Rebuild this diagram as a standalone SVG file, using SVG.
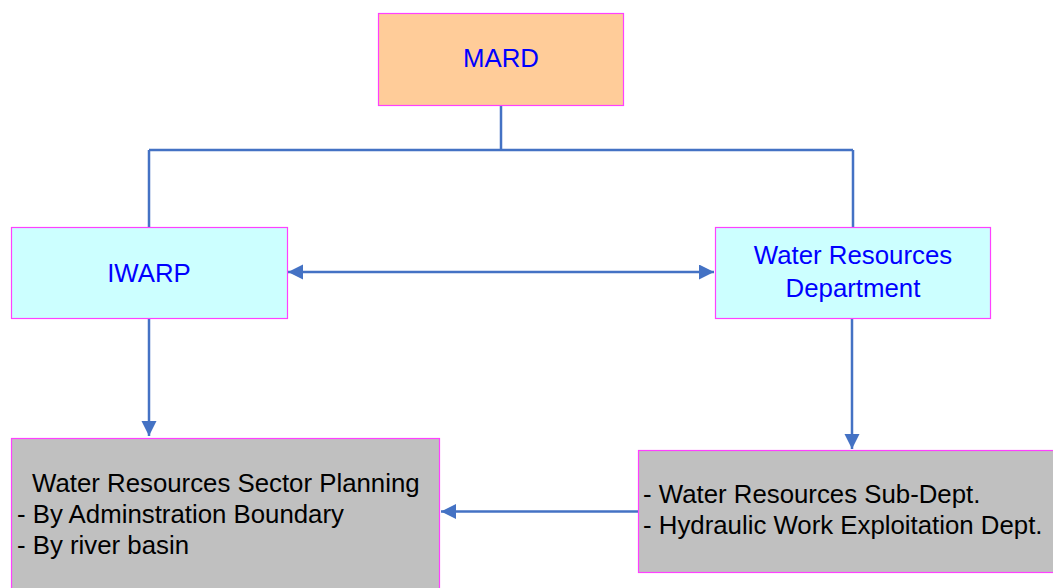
<svg xmlns="http://www.w3.org/2000/svg" width="1053" height="588" viewBox="0 0 1053 588">
<defs>
<marker id="ah" markerUnits="userSpaceOnUse" markerWidth="16" markerHeight="16" viewBox="0 0 16 16" refX="15" refY="7.5" orient="auto-start-reverse">
<path d="M0,0 L15,7.5 L0,15 Z" fill="#4472C4"/>
</marker>
</defs>
<style>
.box{stroke:#FF40FF;stroke-width:1.2}
.t{font-family:"Liberation Sans",Arial,sans-serif;font-size:25.8px}
.blue{fill:#0000FF}
.blk{fill:#000000}
.c{fill:none;stroke:#4472C4;stroke-width:2.5}
</style>
<rect width="1053" height="588" fill="#FFFFFF"/>
<g id="connectors">
<path class="c" d="M501,105 V150 M149,150 H853 M149,150 V227 M853,150 V227"/>
<path class="c" d="M288,272 H714" marker-start="url(#ah)" marker-end="url(#ah)"/>
<path class="c" d="M149,318 V436" marker-end="url(#ah)"/>
<path class="c" d="M852,318 V449" marker-end="url(#ah)"/>
<path class="c" d="M638,511.5 H441" marker-end="url(#ah)"/>
</g>
<g id="mard">
<rect class="box" x="378.5" y="13.5" width="245" height="92" fill="#FFCC99"/>
<text class="t blue" x="501" y="67" text-anchor="middle">MARD</text>
</g>
<g id="iwarp">
<rect class="box" x="11.5" y="227.5" width="276" height="91" fill="#CCFFFF"/>
<text class="t blue" x="149" y="282" text-anchor="middle">IWARP</text>
</g>
<g id="wrd">
<rect class="box" x="715.5" y="227.5" width="275" height="91" fill="#CCFFFF"/>
<text class="t blue" x="853" y="264" text-anchor="middle">Water Resources</text>
<text class="t blue" x="853" y="297" text-anchor="middle">Department</text>
</g>
<g id="wrsp">
<rect class="box" x="11.5" y="438.5" width="428" height="160" fill="#C0C0C0"/>
<text class="t blk" x="32" y="492">Water Resources Sector Planning</text>
<text class="t blk" x="17" y="523">- By Adminstration Boundary</text>
<text class="t blk" x="17" y="554">- By river basin</text>
</g>
<g id="subdept">
<rect class="box" x="638.5" y="450.5" width="425" height="122" fill="#C0C0C0"/>
<text class="t blk" x="643" y="503">- Water Resources Sub-Dept.</text>
<text class="t blk" x="643" y="534">- Hydraulic Work Exploitation Dept.</text>
</g>
</svg>
